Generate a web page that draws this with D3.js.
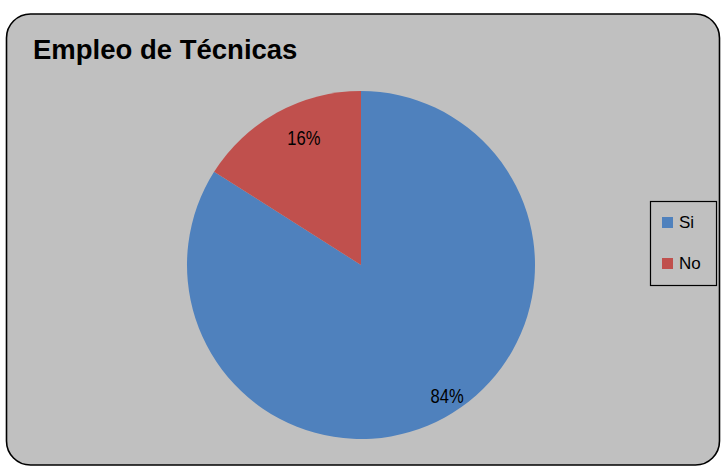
<!DOCTYPE html>
<html><head><meta charset="utf-8">
<script src="https://cdn.jsdelivr.net/npm/d3@7/dist/d3.min.js"></script>
<style>body{margin:0;background:#fff}svg{display:block}</style>
</head><body>
<svg id="c" width="726" height="466"></svg>
<script>
const categories = ["Si", "No"];
const values = [84, 16];
const labels = ["84%", "16%"];
const colors = ["#4f81bd", "#c0504d"];

const svg = d3.select("#c");
svg.append("rect").attr("x", 6.5).attr("y", 14).attr("width", 713).attr("height", 451)
  .attr("rx", 24).attr("ry", 24).attr("fill", "#c0c0c0").attr("stroke", "#000").attr("stroke-width", 1.6);

svg.append("text").attr("x", 33).attr("y", 59).text("Empleo de Técnicas")
  .attr("font-family", "Liberation Sans, Arial, sans-serif").attr("font-weight", "bold").attr("font-size", 27.5).attr("fill", "#000");

const cx = 361, cy = 265, r = 174;
const pie = d3.pie().sort(null).value(d => d)(values);
const arc = d3.arc().innerRadius(0).outerRadius(r);
const g = svg.append("g").attr("transform", `translate(${cx},${cy})`);
g.selectAll("path").data(pie).join("path").attr("d", arc).attr("fill", (d, i) => colors[i]);

// label placement similar to Excel best fit
g.selectAll("text").data(pie).join("text")
  .attr("transform", (d, i) => {
    const f = d.value > 50 ? 0.9 : 0.8;
    const a = d.value > 50 ? d.startAngle + (d.endAngle - d.startAngle) * 0.485 : (d.startAngle + d.endAngle) / 2 + 0.08;
    const c = d3.arc().innerRadius(r * f).outerRadius(r * f).centroid({startAngle: a, endAngle: a});
    return `translate(${c[0]},${c[1]}) scale(0.85,1)`;
  })
  .attr("text-anchor", "middle").attr("dy", "0.35em")
  .attr("font-family", "Liberation Sans, Arial, sans-serif").attr("font-size", 19.5)
  .text((d, i) => labels[i]);

const lg = svg.append("g");
lg.append("rect").attr("x", 650.5).attr("y", 201.5).attr("width", 66).attr("height", 84)
  .attr("fill", "none").attr("stroke", "#000").attr("stroke-width", 1.2);
categories.forEach((c, i) => {
  const y = 217 + i * 41;
  lg.append("rect").attr("x", 662).attr("y", y).attr("width", 11).attr("height", 11).attr("fill", colors[i]);
  lg.append("text").attr("x", 679).attr("y", y + 11).text(c)
    .attr("font-family", "Liberation Sans, Arial, sans-serif").attr("font-size", 17).attr("fill", "#000");
});
</script>
</body></html>
